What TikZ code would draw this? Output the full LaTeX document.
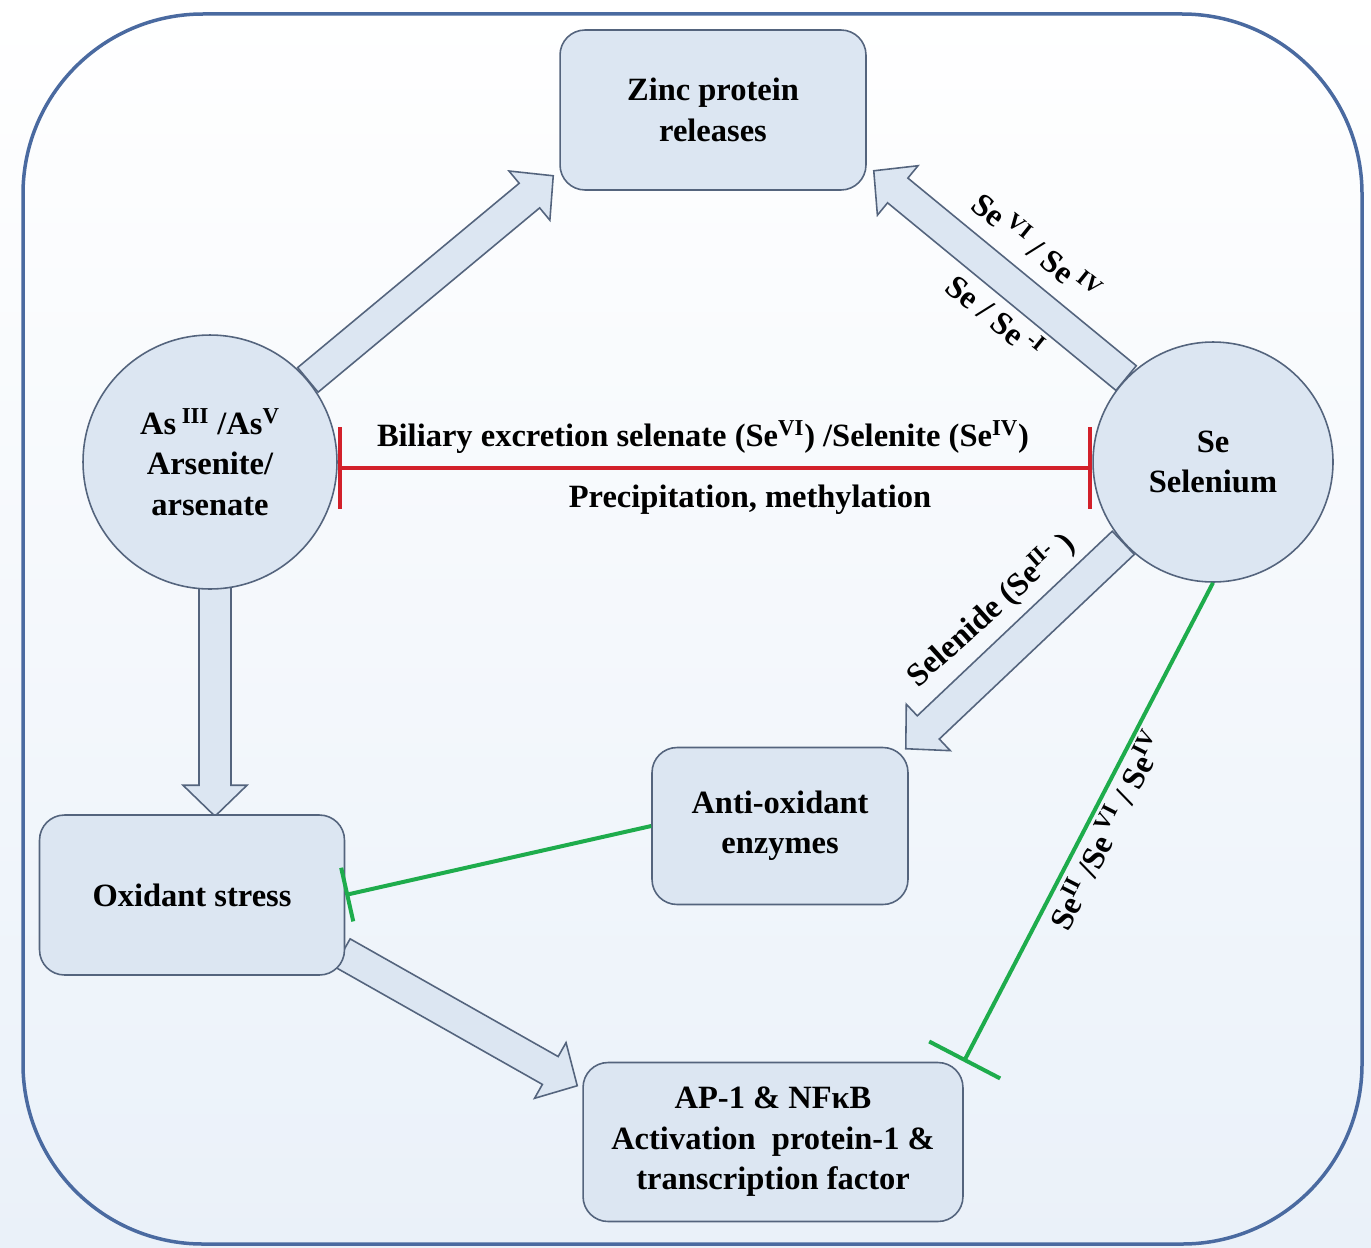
\documentclass[tikz,border=0pt]{standalone}
\usepackage{fontspec}
\setmainfont{Liberation Serif}
\usetikzlibrary{calc,arrows.meta}
\pgfdeclarelayer{back}
\pgfsetlayers{back,main}

\definecolor{boxfill}{RGB}{220,230,242}
\definecolor{boxline}{RGB}{84,100,125}
\definecolor{frameline}{RGB}{74,106,160}
\definecolor{inhred}{RGB}{210,32,42}
\definecolor{inhgreen}{RGB}{30,172,76}
\definecolor{bgbot}{RGB}{234,241,249}

% wide hollow arrow from #1 to #2
\newcommand{\blockarrow}[2]{%
  \coordinate (hb) at ($(#2)!0.62cm!(#1)$);
  \filldraw[fill=boxfill, draw=boxline, line width=0.9pt, line join=miter]
    ($(#1)!0.32cm!90:(#2)$) -- ($(hb)!0.32cm!90:(#2)$) -- ($(hb)!0.64cm!90:(#2)$)
    -- (#2) -- ($(hb)!0.64cm!-90:(#2)$) -- ($(hb)!0.32cm!-90:(#2)$)
    -- ($(#1)!0.32cm!-90:(#2)$) -- cycle;
}

\begin{document}
\begin{tikzpicture}[x=0.02cm, y=-0.02cm,
    txt/.style={font=\bfseries\fontsize{18.5}{23}\selectfont, align=center},
    box/.style={txt, draw=boxline, fill=boxfill, line width=0.9pt, rounded corners=0.5cm},
    ball/.style={txt, draw=boxline, fill=boxfill, line width=0.9pt, shape=circle, inner sep=0pt},
    inh/.style={line width=0.08cm}]
    \useasboundingbox (0,0) rectangle (1371,1247);

    \node(zinc)[box, minimum width=6.12cm, minimum height=3.2cm] at (713,110) {Zinc protein\\releases};
    \node(as)[ball, minimum size=5.08cm] at (210,462) {As\textsuperscript{ III} /As\textsuperscript{V}\\Arsenite/\\arsenate};
    \node(se)[ball, minimum size=4.8cm] at (1213,462) {Se\\Selenium};
    \node(ox)[box, minimum width=6.1cm, minimum height=3.2cm] at (192,895) {Oxidant stress};
    \node(anti)[box, minimum width=5.12cm, minimum height=3.14cm] at (780,826) {Anti-oxidant\\enzymes};
    \node(ap)[box, minimum width=7.6cm, minimum height=3.18cm] at (773,1142) {AP-1 \& NFκB\\Activation~ protein-1 \&\\transcription factor};

    \coordinate(zt1) at ($(zinc.south west)+(-6,-15)$);
    \coordinate(zt2) at ($(zinc.south east)+(7,-20)$);
    \coordinate(ot) at ($(as.south |- ox.north)+(5,2)$);
    \coordinate(at) at ($(anti.north east)+(-3,2)$);
    \coordinate(pf) at ($(ox.south east)+(-3,-23)$);
    \coordinate(pt) at ($(ap.north west)+(-5,24)$);

    \begin{pgfonlayer}{back}
        \shade[top color=white, bottom color=bgbot] (0,0) rectangle (1371,1247);
        \draw[frameline, line width=0.07cm, rounded corners=3.6cm] (23,14) rectangle (1362,1244);
        \blockarrow{as.40}{zt1}
        \blockarrow{$(as.south)+(5,-6)$}{ot}
        \blockarrow{se.136}{zt2}
        \blockarrow{se.222}{at}
        \blockarrow{pf}{pt}
    \end{pgfonlayer}

    \draw[inh, inhred, {Bar[width=1.64cm]}-{Bar[width=1.64cm]}] ([yshift=-0.12cm]as.east) -- ([yshift=-0.12cm]se.west);
    \draw[inh, inhgreen, -{Bar[width=1.6cm]}] (se.south) -- (ap.north east);
    \draw[inh, inhgreen, -{Bar[width=1.1cm]}] (anti.west) -- (ox.east);

    \node(bil)[txt] at (703,437) {Biliary excretion selenate (Se\textsuperscript{VI}) /Selenite (Se\textsuperscript{IV})};
    \node(pre)[txt] at (750,500) {Precipitation, methylation};
    \node(sehi)[txt, rotate=-39] at (1037,247) {Se\textsuperscript{ VI} / Se\textsuperscript{ IV}};
    \node(selo)[txt, rotate=-39] at (996,316) {Se / Se\textsuperscript{ -I}};
    \node(sel)[txt, rotate=42] at (991,610) {Selenide (Se\textsuperscript{II-} )};
    \node(segr)[txt, rotate=63] at (1106,830) {Se\textsuperscript{II} /Se\textsuperscript{ VI} / Se\textsuperscript{IV}};
\end{tikzpicture}
\end{document}
